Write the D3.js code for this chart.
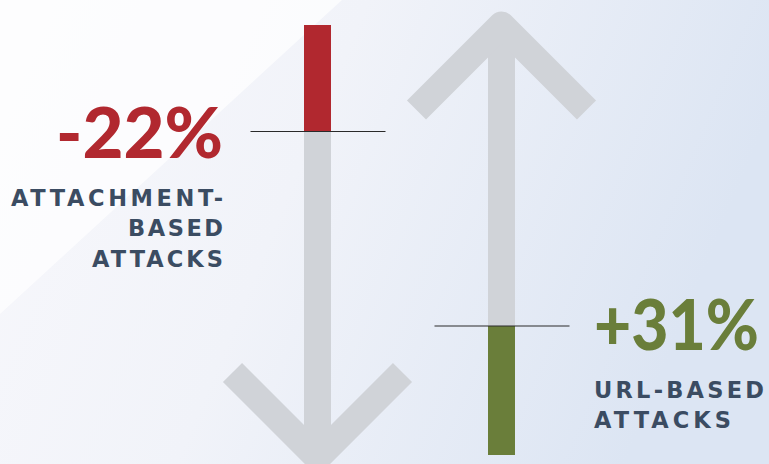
<!DOCTYPE html>
<html>
<head>
<meta charset="utf-8">
<script src="https://cdn.jsdelivr.net/npm/d3@7"></script>
<style>
  html, body { margin: 0; padding: 0; background: #f5f6fa; }
  svg { display: block; }
</style>
</head>
<body>
<div id="main"></div>
<script>
// data
var categories = ["Attachment-based attacks", "URL-based attacks"];
var changes = [-22, 31];
var valueLabels = ["-22%", "+31%"];
var labelLines = [["ATTACHMENT-", "BASED", "ATTACKS"], ["URL-BASED", "ATTACKS"]];
var barColors = ["#b1282f", "#6a7e3a"];

var width = 769,
    height = 464;

var shaftTop = 25,
    shaftBottom = 455,
    shaftW = 27,
    armLen = 85;

var svg = d3.select("#main")
    .append("svg")
    .attr("width", width)
    .attr("height", height);

// background
var defs = svg.append("defs");
var grad = defs.append("linearGradient")
    .attr("id", "bg")
    .attr("x1", "0").attr("y1", "0")
    .attr("x2", "1").attr("y2", "0.25");
grad.append("stop").attr("offset", "0").attr("stop-color", "#f8f8fc");
grad.append("stop").attr("offset", "0.45").attr("stop-color", "#f1f3f9");
grad.append("stop").attr("offset", "1").attr("stop-color", "#dce5f3");

svg.append("rect")
    .attr("width", width)
    .attr("height", height)
    .attr("fill", "url(#bg)");

// lighter corner top-left
svg.append("path")
    .attr("d", "M0,0 L342,0 L0,314 Z")
    .attr("fill", "#ffffff")
    .attr("opacity", 0.7);

var x = d3.scalePoint()
    .domain(categories)
    .range([317.5, 501.5]);

// bar length for a change in percent (bars start from a base stub)
var len = d3.scaleLinear()
    .domain([0, 100])
    .range([51.5, 301.5]);

var data = categories.map(function(c, i) {
    return { name: c, value: changes[i], label: valueLabels[i], lines: labelLines[i], color: barColors[i] };
});

function barEnd(d) {
    return d.value < 0 ? shaftTop + len(-d.value) : shaftBottom - len(d.value);
}

var g = svg.selectAll("g.item")
    .data(data)
    .enter()
    .append("g")
    .attr("class", "item");

// arrow shaft
g.append("rect")
    .attr("x", function(d) { return x(d.name) - shaftW / 2; })
    .attr("y", shaftTop)
    .attr("width", shaftW)
    .attr("height", shaftBottom - shaftTop)
    .attr("fill", "#d0d3d8");

// arrow head
g.append("path")
    .attr("d", function(d) {
        var cx = x(d.name);
        if (d.value < 0) {
            var vy = 457.5;
            return "M" + (cx - armLen) + "," + (vy - armLen) + "L" + cx + "," + vy + "L" + (cx + armLen) + "," + (vy - armLen);
        }
        var ty = 25;
        return "M" + (cx - armLen) + "," + (ty + armLen) + "L" + cx + "," + ty + "L" + (cx + armLen) + "," + (ty + armLen);
    })
    .attr("fill", "none")
    .attr("stroke", "#d0d3d8")
    .attr("stroke-width", shaftW)
    .attr("stroke-linejoin", "round")
    .attr("stroke-linecap", "butt");

// value bar
g.append("rect")
    .attr("x", function(d) { return x(d.name) - shaftW / 2; })
    .attr("y", function(d) { return d.value < 0 ? shaftTop : barEnd(d); })
    .attr("width", shaftW)
    .attr("height", function(d) { return len(Math.abs(d.value)); })
    .attr("fill", function(d) { return d.color; });

// marker line
g.append("line")
    .attr("x1", function(d) { return x(d.name) - 67; })
    .attr("x2", function(d) { return x(d.name) + 68; })
    .attr("y1", barEnd)
    .attr("y2", barEnd)
    .attr("stroke", "#2a2a2a")
    .attr("stroke-width", 1.2);

// text blocks
var textPos = [
    { x: 223, y: 158, anchor: "end", numW: 167, lineW: [212, 95, 131] },
    { x: 594, y: 350, anchor: "start", numW: 165, lineW: [170, 137] }
];

// big percentage, squeezed horizontally to the wanted width
g.each(function(d, i) {
    var p = textPos[i];
    var holder = d3.select(this).append("g");
    var t = holder.append("text")
        .attr("x", 0)
        .attr("y", 0)
        .attr("text-anchor", p.anchor)
        .attr("font-family", "Lato, sans-serif")
        .attr("font-weight", 900)
        .attr("font-size", 71)
        .attr("fill", d.color)
        .text(d.label);
    var natural = t.node().getComputedTextLength();
    var sx = p.numW / natural;
    holder.attr("transform", "translate(" + p.x + "," + p.y + ") scale(" + sx + ",1)");
});

g.each(function(d, i) {
    var p = textPos[i];
    d3.select(this).selectAll("text.lab")
        .data(d.lines)
        .enter()
        .append("text")
        .attr("class", "lab")
        .attr("x", p.x)
        .attr("y", function(s, j) { return p.y + 47.5 + j * 30.5; })
        .attr("text-anchor", p.anchor)
        .attr("font-family", "'DejaVu Sans', sans-serif")
        .attr("font-weight", 700)
        .attr("font-size", 22.5)
        .attr("textLength", function(s, j) { return p.lineW[j]; })
        .attr("lengthAdjust", "spacing")
        .attr("fill", "#3b4c62")
        .text(function(s) { return s; });
});
</script>
</body>
</html>
